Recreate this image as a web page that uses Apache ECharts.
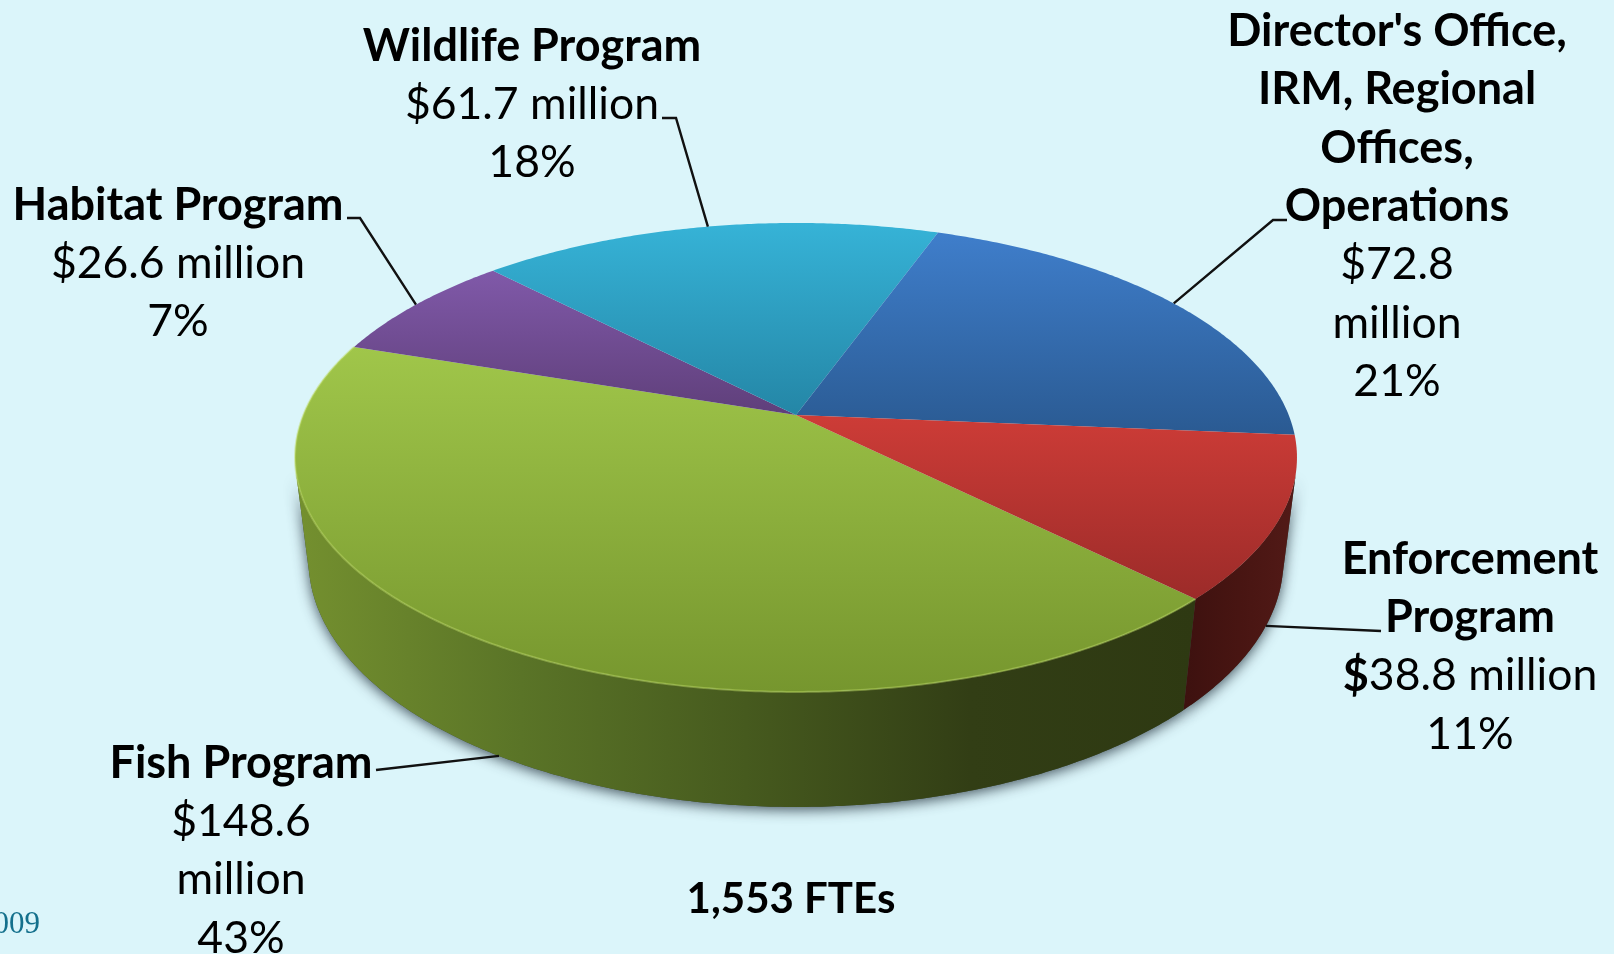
<!DOCTYPE html>
<html>
<head>
<meta charset="utf-8">
<title>Program budget</title>
<script src="https://cdn.jsdelivr.net/npm/echarts@6/dist/echarts.min.js"></script>
<style>
  html, body { margin: 0; padding: 0; background: #dbf5fa; }
  #main { width: 1614px; height: 954px; }
</style>
</head>
<body>
<div id="main"></div>
<script>
// clockwise from the green/red boundary
const programs = ['Fish Program', 'Habitat Program', 'Wildlife Program', "Director's Office,\nIRM, Regional\nOffices,\nOperations", 'Enforcement\nProgram'];
const millions = [148.6, 26.6, 61.7, 72.8, 38.8];
const percents = [43, 7, 18, 21, 11];
const totalFtes = '1,553 FTEs';
const footerDate = '2009';

// label look, same order as the data
const wrapAmount = [true, false, false, true, false];
const boldDollar = [false, false, false, false, true];
const labelCentreX = [241, 178, 532, 1397, 1470];
const labelTopY = [734, 176, 17, 2, 530];
const leaderElbows = [
  [[376, 770]],
  [[360, 218], [347, 218]],
  [[676, 118], [662, 118]],
  [[1273, 220], [1287, 220]],
  [[1381, 631]]
];
const topColors = [
  ['#a0c64a', '#76962e'],
  ['#8059a9', '#5f3f7a'],
  ['#36b3d7', '#2486a6'],
  ['#3f7ecb', '#2a5a92'],
  ['#cd3c37', '#9c2b29']
];
const wallStops = [
  [[0, '#74902f'], [0.25, '#5a7427'], [0.5, '#465a1e'], [0.75, '#323e15'], [1, '#2e3912']],
  [[0, '#5a3a72'], [1, '#5a3a72']],
  [[0, '#1f7a96'], [1, '#1f7a96']],
  [[0, '#244f80'], [1, '#244f80']],
  [[0, '#3d110f'], [0.5, '#481512'], [1, '#521a17']]
];

// camera for the tilted disc: z = 0 is the top face, z = 1 the bottom edge
const CX = 796, CY = 415;
const SCALE_X = 492.7, SCALE_Y = 226.8, DEPTH_Y = 104.8;
const TILT = 0.181, DEPTH_SHRINK = 0.027;
const START_DEG = 45;
// the side turns away from the viewer outside these angles
const WALL_FROM = 14, WALL_TO = 166;

const total = millions.reduce((a, b) => a + b, 0);
const startDeg = [];
millions.reduce((acc, v, i) => {
  startDeg[i] = acc;
  return acc + v / total * 360;
}, START_DEG);

function project(deg, z) {
  const rad = deg * Math.PI / 180;
  const u = Math.cos(rad);
  const v = Math.sin(rad);
  const d = 1 - TILT * v + DEPTH_SHRINK * z;
  return [CX + SCALE_X * u / d, CY + (SCALE_Y * v + DEPTH_Y * z) / d];
}

function arc(from, to, z) {
  const pts = [];
  const steps = Math.max(2, Math.ceil(Math.abs(to - from) * 2));
  for (let i = 0; i <= steps; i++) {
    pts.push(project(from + (to - from) * i / steps, z));
  }
  return pts;
}

function sliceRange(i) {
  const from = startDeg[i] % 360;
  return [from, from + millions[i] / total * 360];
}

function wallPoints(i) {
  const range = sliceRange(i);
  const from = Math.max(range[0], WALL_FROM);
  const to = Math.min(range[1], WALL_TO);
  if (to <= from) return null;
  return arc(from, to, 0).concat(arc(from, to, 1).reverse());
}

function wallFill(i) {
  return {
    type: 'linear', x: 0, y: 0, x2: 1, y2: 0,
    colorStops: wallStops[i].map(s => ({ offset: s[0], color: s[1] }))
  };
}

function renderShadow(params, api) {
  const pts = wallPoints(api.value(0));
  if (!pts) return;
  return {
    type: 'polygon',
    shape: { points: pts },
    style: { fill: '#3d4a3a', shadowBlur: 13, shadowColor: 'rgba(45,60,70,0.85)', shadowOffsetY: 3, shadowOffsetX: 0 }
  };
}

function renderWall(params, api) {
  const i = api.value(0);
  const pts = wallPoints(i);
  if (!pts) return;
  return { type: 'polygon', shape: { points: pts }, style: { fill: wallFill(i) } };
}

function renderTop(params, api) {
  const i = api.value(0);
  const range = sliceRange(i);
  const rim = arc(range[0], range[1], 0);
  const children = [{
    type: 'polygon',
    shape: { points: [[CX, CY]].concat(rim) },
    style: {
      fill: {
        type: 'linear', x: 0, y: 0, x2: 0, y2: 1,
        colorStops: [{ offset: 0, color: topColors[i][0] }, { offset: 1, color: topColors[i][1] }]
      }
    }
  }];
  // light bevel along the near edge
  if (i === 0) {
    children.push({
      type: 'polyline',
      shape: { points: rim },
      style: { stroke: 'rgba(190,220,100,0.45)', lineWidth: 2, fill: null }
    });
  }
  return { type: 'group', children: children };
}

function labelText(i) {
  const amount = millions[i].toFixed(1);
  const title = programs[i].split('\n').map(t => '{b|' + t + '}');
  const dollar = boldDollar[i] ? '{b|$}' : '{r|$}';
  const money = wrapAmount[i]
    ? [dollar + '{r|' + amount + '}', '{r|million}']
    : [dollar + '{r|' + amount + ' million}'];
  return title.concat(money, ['{r|' + percents[i] + '%}']).join('\n');
}

function renderLabel(params, api) {
  const i = api.value(0);
  const range = sliceRange(i);
  const mid = (range[0] + range[1]) / 2;
  const front = Math.sin(mid * Math.PI / 180) > 0;
  // leader starts mid slice on the visible edge
  const start = project(mid, front ? 1 : 0);
  return {
    type: 'group',
    children: [{
      type: 'polyline',
      shape: { points: [start].concat(leaderElbows[i]) },
      style: { stroke: '#111', lineWidth: 2.4, fill: null }
    }, {
      type: 'text',
      style: {
        text: labelText(i),
        x: labelCentreX[i],
        y: labelTopY[i],
        align: 'center',
        verticalAlign: 'top',
        fill: '#000',
        rich: {
          b: { fontFamily: 'Lato', fontWeight: 'bold', fontSize: 45, lineHeight: 58.4, fill: '#000', color: '#000' },
          r: { fontFamily: 'Lato', fontWeight: 'normal', fontSize: 44.5, lineHeight: 58.4, fill: '#000', color: '#000' }
        }
      }
    }]
  };
}

const chart = echarts.init(document.getElementById('main'));
const rows = millions.map((v, i) => [i, v]);
const layer = (render, z) => ({
  type: 'custom', coordinateSystem: 'none', silent: true, animation: false,
  z: z, clip: false, data: rows, renderItem: render
});

chart.setOption({
  backgroundColor: '#dbf5fa',
  animation: false,
  graphic: [{
    type: 'text',
    x: 791, y: 899,
    style: { text: totalFtes, align: 'center', verticalAlign: 'middle', fontFamily: 'Lato', fontWeight: 'bold', fontSize: 42, fill: '#000' }
  }, {
    type: 'text',
    x: 40, y: 925,
    style: { text: footerDate, align: 'right', verticalAlign: 'middle', fontFamily: 'Liberation Serif', fontSize: 31, fill: '#14708c' }
  }],
  series: [
    layer(renderShadow, 1),
    layer(renderWall, 2),
    layer(renderTop, 3),
    layer(renderLabel, 4)
  ]
});
</script>
</body>
</html>
